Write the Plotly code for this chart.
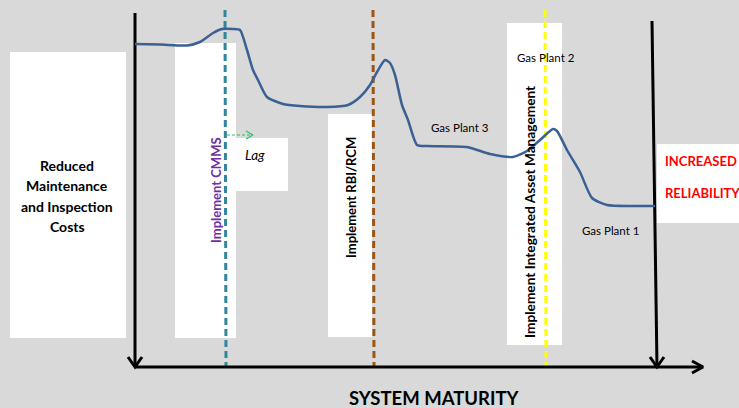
import plotly.graph_objects as go

# Canvas coordinates: x to the right, y downward (0..408)
W, H = 739, 408

# Maintenance-cost curve across system maturity
curve_x = [135, 160, 187, 200, 213, 222, 233, 240, 247, 253, 258, 267, 283, 300, 327, 348, 360,
           370, 377, 385, 390, 395, 402, 408, 417, 427, 467, 490, 513, 527, 540, 553, 557,
           567, 580, 592, 607, 633, 655]
curve_y = [44, 44.5, 45.5, 42, 33, 29, 29, 30, 50, 70, 80, 97, 104, 106, 107, 105, 97,
           85, 72, 60, 63, 75, 105, 120, 145, 146, 147, 154, 157, 151, 140, 129, 131,
           150, 172, 198, 205, 206, 206]

# Milestones (vertical dashed markers)
milestone_x = [225, 373, 545]
milestone_colors = ["#31859c", "#9e5512", "#ffff00"]

# Left-hand caption lines
cost_lines = ["Reduced", "Maintenance", "and Inspection", "Costs"]
cost_line_y = [165, 185.5, 206, 226.5]

# White label panels: x0, y0, x1, y1
panels = [
    (10, 52, 126, 338),
    (175, 43, 236, 338),
    (236, 138, 288, 191),
    (328, 114, 372, 337),
    (507, 23, 562, 345),
    (657, 144, 739, 223),
]

fig = go.Figure()

for (x0, y0, x1, y1) in panels:
    fig.add_shape(type="rect", x0=x0, y0=y0, x1=x1, y1=y1,
                  fillcolor="white", line_width=0, layer="below")

# Dashed milestone lines
for mx, col in zip(milestone_x, milestone_colors):
    fig.add_trace(go.Scatter(x=[mx, mx + 1], y=[10, 367], mode="lines",
                             line=dict(color=col, width=3, dash="7px,4px"),
                             hoverinfo="skip", showlegend=False))

# Axes: left and right verticals and bottom horizontal
axis_color = "black"
fig.add_trace(go.Scatter(x=[135, 135], y=[13, 367], mode="lines",
                         line=dict(color=axis_color, width=3), showlegend=False, hoverinfo="skip"))
fig.add_trace(go.Scatter(x=[652, 657], y=[21, 367], mode="lines",
                         line=dict(color=axis_color, width=3), showlegend=False, hoverinfo="skip"))
fig.add_trace(go.Scatter(x=[135, 703], y=[367, 367], mode="lines",
                         line=dict(color=axis_color, width=3), showlegend=False, hoverinfo="skip"))

def chevron(tipx, tipy, dx, dy, px, py):
    # open arrowhead: two strokes meeting at the tip
    return [tipx - dx + px, tipx, tipx - dx - px], [tipy - dy + py, tipy, tipy - dy - py]

for (tx, ty, dx, dy, px, py) in [(135, 367, 0, 10, 7, 0),
                                 (657, 367, 0, 10, 7, 0),
                                 (703, 367, 11, 0, 0, 6)]:
    cx, cy = chevron(tx, ty, dx, dy, px, py)
    fig.add_trace(go.Scatter(x=cx, y=cy, mode="lines",
                             line=dict(color=axis_color, width=3),
                             showlegend=False, hoverinfo="skip"))

# Lag arrow (green dashed)
fig.add_trace(go.Scatter(x=[227, 253], y=[135, 135], mode="lines",
                         line=dict(color="#2fbf60", width=1.2, dash="3px,2px"),
                         showlegend=False, hoverinfo="skip"))
cx, cy = chevron(253, 135, 7, 0, 0, 4)
fig.add_trace(go.Scatter(x=cx, y=cy, mode="lines",
                         line=dict(color="#2fbf60", width=1.2),
                         showlegend=False, hoverinfo="skip"))

# Cost curve
fig.add_trace(go.Scatter(x=curve_x, y=curve_y, mode="lines",
                         line=dict(color="#3a6094", width=2.5, shape="spline", smoothing=0.6),
                         showlegend=False, hoverinfo="skip"))

FONT = "Lato"

def label(x, y, text, size=12, color="black", bold=False, italic=False, angle=0):
    t = text
    if bold:
        t = "<b>" + t + "</b>"
    if italic:
        t = "<i>" + t + "</i>"
    fig.add_annotation(x=x, y=y, text=t, showarrow=False, textangle=angle,
                       font=dict(family=FONT, size=size, color=color),
                       xanchor="center", yanchor="middle")

for line_text, ly in zip(cost_lines, cost_line_y):
    label(67, ly, line_text, size=14, bold=True)
label(216, 190, "Implement CMMS", size=13, color="#7030a0", bold=True, angle=-90)
label(255, 155, "Lag", size=13.5, italic=True)
label(351, 198, "Implement RBI/RCM", size=13, bold=True, angle=-90)
label(460, 127, "Gas Plant 3", size=11.5)
label(546, 57, "Gas Plant 2", size=11.5)
label(529, 212, "Implement Integrated Asset Management", size=13.7, bold=True, angle=-90)
label(701, 161, "INCREASED", size=13, color="#ff0000", bold=True)
label(702, 193, "RELIABILITY", size=13, color="#ff0000", bold=True)
label(610, 230, "Gas Plant 1", size=11.5)
label(434, 398, "SYSTEM MATURITY", size=18.5, bold=True)

fig.update_xaxes(range=[0, W], visible=False, fixedrange=True)
fig.update_yaxes(range=[H, 0], visible=False, fixedrange=True)
fig.update_layout(width=W, height=H, margin=dict(l=0, r=0, t=0, b=0),
                  paper_bgcolor="#d9d9d9", plot_bgcolor="#d9d9d9", showlegend=False)

fig.write_html("out.html", config={"displayModeBar": False})
